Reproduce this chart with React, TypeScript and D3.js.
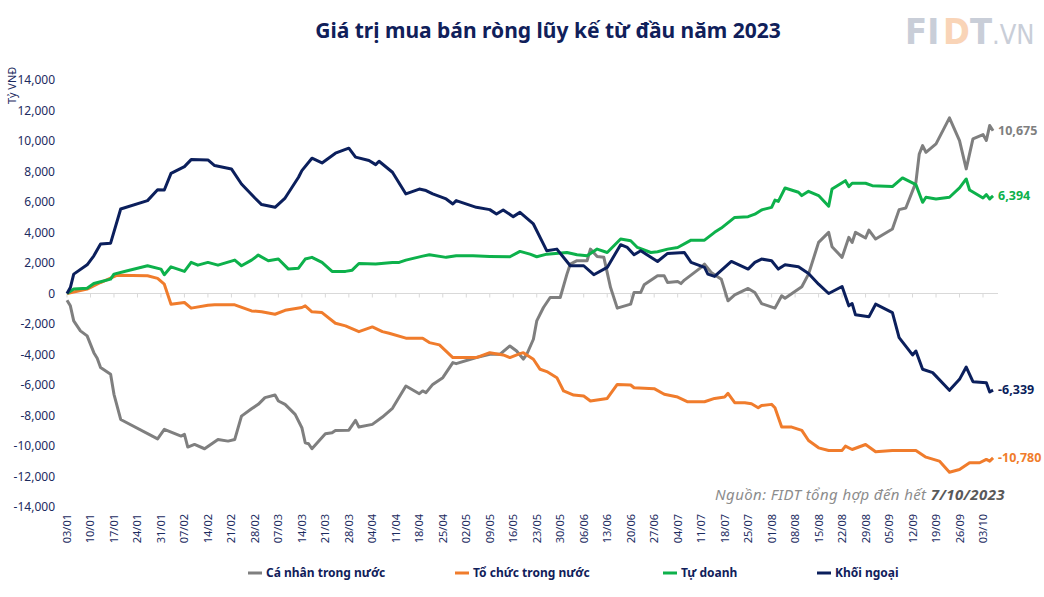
import React from 'react';
import * as d3 from 'd3';

// days since 03/01/2023, cumulative net value (tỷ VNĐ)
const caNhan: [number, number][] = [
  [0, -440], [1, -810], [2, -1800], [4, -2450], [6, -2780], [8, -3880], [9, -4250], [10, -4860],
  [13, -5300], [14, -6610], [16, -8260], [27, -9530], [29, -8910], [34, -9350], [35, -9240],
  [36, -10070], [38, -9900], [41, -10180], [45, -9570], [48, -9680], [50, -9570], [52, -8040],
  [55, -7560], [57, -7270], [59, -6830], [62, -6660], [63, -7050], [65, -7270], [68, -7930],
  [70, -8800], [71, -9790], [72, -9850], [73, -10180], [77, -9200], [79, -9130], [80, -8980],
  [84, -8960], [86, -8320], [87, -8760], [91, -8580], [94, -8100], [97, -7530], [101, -6070],
  [105, -6570], [106, -6390], [107, -6500], [109, -5960], [112, -5520], [115, -4530], [116, -4600],
  [122, -4200], [126, -3990], [129, -3990], [132, -3440], [134, -3770], [136, -4300], [137, -4000],
  [139, -3000], [140, -1800], [142, -920], [144, -260], [147, -260], [149, 1270], [150, 1930],
  [152, 2150], [155, 2150], [156, 2910], [158, 2430], [160, 2370], [162, 390], [164, -960],
  [168, -700], [169, 70], [171, 70], [172, 570], [176, 1160], [178, 1160], [179, 720], [182, 790],
  [183, 650], [184, 880], [189, 1710], [190, 1930], [192, 1380], [195, 940], [197, -480], [199, -90],
  [203, 330], [205, 70], [207, -660], [211, -960], [213, -150], [214, -310], [219, 440], [221, 1270],
  [224, 3350], [227, 4010], [228, 3070], [231, 2370], [233, 3680], [234, 3350], [235, 4010],
  [238, 3640], [239, 4160], [241, 3570], [246, 4230], [248, 5500], [250, 5610], [253, 7290],
  [254, 9150], [255, 9700], [256, 9260], [259, 9810], [263, 11520], [266, 10030], [268, 8170],
  [270, 10140], [273, 10420], [274, 10030], [275, 11020], [276, 10675],
];

const toChuc: [number, number][] = [
  [0, 0], [6, 290], [10, 720], [15, 1200], [24, 1160], [27, 990], [29, 610], [31, -700], [35, -590],
  [37, -960], [42, -770], [44, -740], [50, -740], [55, -1140], [58, -1200], [62, -1360], [65, -1100],
  [70, -920], [71, -810], [73, -1200], [76, -1250], [80, -1950], [83, -2120], [87, -2500], [91, -2190],
  [94, -2500], [96, -2610], [101, -2930], [106, -2930], [108, -3220], [111, -3370], [115, -4200],
  [122, -4200], [126, -3880], [130, -4030], [132, -4200], [135, -3940], [136, -3880], [139, -4310],
  [141, -4970], [143, -5120], [146, -5520], [148, -6390], [151, -6660], [154, -6720], [156, -7050],
  [161, -6880], [164, -5960], [168, -6000], [169, -6180], [175, -6240], [178, -6610], [182, -6790],
  [185, -7100], [190, -7100], [193, -6880], [196, -6790], [197, -6550], [199, -7160], [202, -7160],
  [204, -7230], [206, -7490], [207, -7340], [210, -7270], [211, -7490], [213, -8760], [216, -8760],
  [219, -8980], [221, -9640], [224, -10120], [227, -10290], [231, -10290], [232, -10010],
  [234, -10230], [238, -9900], [241, -10380], [246, -10290], [253, -10290], [256, -10730],
  [260, -10990], [263, -11720], [266, -11540], [269, -11100], [272, -11100], [274, -10880],
  [275, -10990], [276, -10780],
];

const tuDoanh: [number, number][] = [
  [0, 0], [2, 290], [6, 350], [8, 660], [10, 770], [13, 940], [14, 1270], [18, 1490], [24, 1820],
  [28, 1600], [29, 1230], [31, 1750], [35, 1450], [37, 2040], [39, 1860], [42, 2040], [45, 1860],
  [50, 2190], [52, 1820], [55, 2190], [57, 2520], [60, 2150], [63, 2260], [66, 1600], [69, 1660],
  [71, 2260], [73, 2370], [76, 2040], [79, 1450], [83, 1450], [85, 1530], [87, 1970], [92, 1930],
  [97, 2040], [99, 2040], [101, 2190], [106, 2450], [108, 2540], [113, 2370], [116, 2470],
  [121, 2470], [126, 2430], [132, 2410], [135, 2760], [138, 2580], [140, 2410], [143, 2580],
  [149, 2690], [152, 2540], [155, 2470], [158, 2910], [161, 2690], [165, 3570], [168, 3460],
  [170, 3020], [174, 2690], [176, 2740], [179, 2910], [182, 3020], [186, 3500], [190, 3500],
  [193, 4010], [195, 4290], [199, 4990], [203, 5040], [205, 5200], [207, 5480], [210, 5650],
  [211, 6130], [212, 6040], [214, 6920], [218, 6640], [219, 6420], [221, 6700], [224, 6420],
  [227, 5720], [228, 6850], [232, 7400], [233, 7010], [234, 7230], [238, 7230], [240, 7070],
  [246, 7010], [249, 7580], [253, 7140], [255, 5980], [256, 6310], [259, 6200], [263, 6310],
  [266, 6920], [268, 7510], [269, 6790], [273, 6260], [274, 6480], [275, 6200], [276, 6394],
];

const khoiNgoai: [number, number][] = [
  [0, 0], [1, 390], [2, 1270], [6, 1880], [8, 2470], [10, 3240], [13, 3300], [16, 5540], [24, 6090],
  [27, 6810], [29, 6790], [31, 7880], [35, 8320], [37, 8780], [42, 8760], [44, 8390], [49, 8170],
  [52, 7180], [56, 6260], [58, 5830], [62, 5650], [65, 6260], [69, 7620], [70, 8060], [73, 8870],
  [76, 8560], [80, 9200], [84, 9530], [86, 8940], [90, 8720], [92, 8450], [93, 8670], [97, 7950],
  [101, 6530], [105, 6850], [107, 6750], [109, 6530], [113, 6200], [115, 5870], [116, 6090],
  [122, 5650], [126, 5500], [128, 5210], [130, 5480], [133, 5040], [135, 5320], [139, 4560],
  [142, 3240], [143, 2800], [146, 2910], [150, 1820], [154, 1820], [157, 1230], [161, 1710],
  [165, 3200], [167, 3020], [169, 2540], [171, 2800], [176, 2100], [179, 2630], [184, 2690],
  [186, 2040], [190, 1710], [191, 1270], [193, 1120], [198, 2100], [203, 1600], [205, 2040],
  [207, 2260], [210, 2150], [212, 1600], [214, 1880], [218, 1750], [221, 1310], [224, 610],
  [227, 0], [231, 460], [233, -810], [234, -660], [235, -1400], [239, -1530], [241, -700],
  [246, -1250], [248, -2890], [252, -4030], [253, -3770], [255, -4970], [258, -5190], [263, -6350],
  [266, -5630], [268, -4820], [270, -5780], [274, -5850], [275, -6460], [276, -6339],
];

const seriesNames = ['Cá nhân trong nước', 'Tổ chức trong nước', 'Tự doanh', 'Khối ngoại'];
const seriesData = [caNhan, toChuc, tuDoanh, khoiNgoai];
const seriesColors = ['#7f7f7f', '#f07c2c', '#0db14b', '#0b1f5c'];
const yTicks = d3.range(-14000, 14001, 2000);

const startDate = new Date(2023, 0, 3);
const endTick = new Date(2023, 9, 3);

const navy = '#1c2b5f';
const font = "'Noto Sans', sans-serif";

const locale = d3.formatLocale({ decimal: '.', thousands: ',', grouping: [3], currency: ['', ''], minus: '-' });

export default function App() {
  const x = d3.scaleTime().domain([startDate, endTick]).range([67, 983]);
  const y = d3.scaleLinear().domain([-14000, 14000]).range([507, 80]);
  const xTicks = d3.timeDay.range(startDate, d3.timeDay.offset(endTick, 1), 7);
  const fmtDate = d3.timeFormat('%d/%m');
  const fmtNum = locale.format(',');

  const line = d3
    .line<[number, number]>()
    .x((d) => x(d3.timeDay.offset(startDate, d[0])))
    .y((d) => y(d[1]));

  const legendX = [248, 455, 663, 817];

  return (
    <svg width={1044} height={597} style={{ position: 'absolute', left: 0, top: 0, background: '#fff' }}>
      <rect width={1044} height={597} fill="#fff" />
      <text x={548} y={38} textAnchor="middle" fontFamily={font} fontWeight="bold" fontSize={21} fill="#10205a">
        Giá trị mua bán ròng lũy kế từ đầu năm 2023
      </text>

      {/* logo */}
      <g fontFamily="'DejaVu Sans Condensed', 'DejaVu Sans', sans-serif" fontWeight="bold" fontSize={36}>
        <text x={905} y={44} fill="#c9ced8">FI</text>
        <text x={943} y={44} fill="#f9d4b7">D</text>
        <text x={970} y={44} fill="#c9ced8">T</text>
        <text x={992} y={44} fill="#c9ced8" fontSize={27} fontWeight="normal">.VN</text>
      </g>

      <text transform="translate(16,104) rotate(-90)" fontFamily={font} fontSize={11} fill={navy}>
        Tỷ VNĐ
      </text>

      {yTicks.map((t) => (
        <text key={t} x={55} y={y(t) + 4} textAnchor="end" fontFamily={font} fontSize={12} fill={navy}>
          {fmtNum(t)}
        </text>
      ))}

      <line x1={66} x2={998} y1={y(0)} y2={y(0)} stroke="#d9d9d9" strokeWidth={1} />
      {xTicks.map((t, i) => (
        <line key={i} x1={x(t)} x2={x(t)} y1={y(0)} y2={y(0) + 4} stroke="#d9d9d9" strokeWidth={1} />
      ))}

      {xTicks.map((t, i) => (
        <text
          key={i}
          transform={`translate(${x(t) + 4},514) rotate(-90)`}
          textAnchor="end"
          fontFamily={font}
          fontSize={11}
          fill={navy}
        >
          {fmtDate(t)}
        </text>
      ))}

      {seriesData.map((s, i) => (
        <path
          key={i}
          d={line(s) ?? ''}
          fill="none"
          stroke={seriesColors[i]}
          strokeWidth={3}
          strokeLinejoin="round"
        />
      ))}

      {seriesData.map((s, i) => {
        const last = s[s.length - 1];
        return (
          <text
            key={i}
            x={x(d3.timeDay.offset(startDate, last[0])) + 5}
            y={y(last[1]) + 4}
            fontFamily={font}
            fontWeight="bold"
            fontSize={12.5}
            fill={seriesColors[i]}
          >
            {fmtNum(last[1])}
          </text>
        );
      })}

      <text x={1005} y={500} textAnchor="end" fontFamily={font} fontStyle="italic" fontSize={15} letterSpacing={0.4} fill="#8c8c8c">
        Nguồn: FIDT tổng hợp đến hết{' '}
        <tspan fontWeight="bold" fill="#595959">7/10/2023</tspan>
      </text>

      {seriesNames.map((n, i) => (
        <g key={n}>
          <line x1={legendX[i]} x2={legendX[i] + 14} y1={573} y2={573} stroke={seriesColors[i]} strokeWidth={3} />
          <text x={legendX[i] + 18} y={577} fontFamily={font} fontWeight="bold" fontSize={12} fill="#10205a">
            {n}
          </text>
        </g>
      ))}
    </svg>
  );
}
